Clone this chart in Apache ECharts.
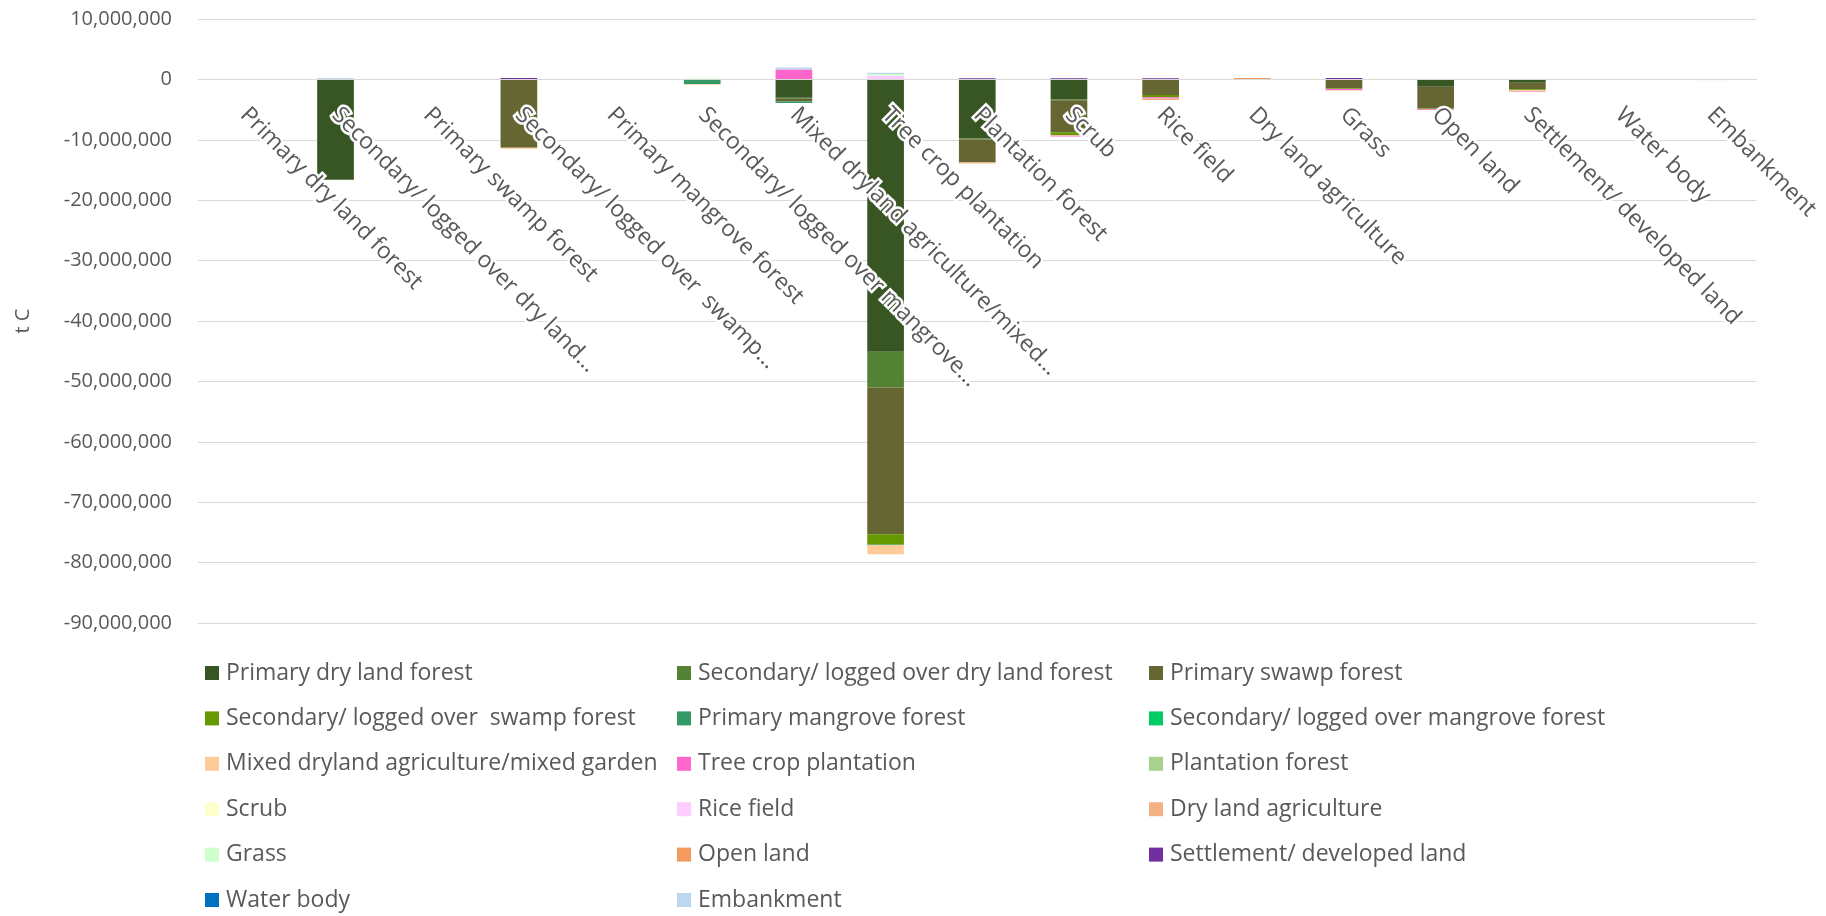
<!DOCTYPE html>
<html>
<head>
<meta charset="utf-8">
<script src="https://cdn.jsdelivr.net/npm/echarts@6/dist/echarts.min.js"></script>
<style>
html,body{margin:0;padding:0;background:#fff;}
#chart{width:1826px;height:916px;}
</style>
</head>
<body>
<div id="chart"></div>
<script>
// Category labels as shown on the x axis
const categoryLabels = [
  'Primary dry land forest',
  'Secondary/ logged over dry land...',
  'Primary swamp forest',
  'Secondary/ logged over  swamp...',
  'Primary mangrove forest',
  'Secondary/ logged over mangrove...',
  'Mixed dryland agriculture/mixed...',
  'Tree crop plantation',
  'Plantation forest',
  'Scrub',
  'Rice field',
  'Dry land agriculture',
  'Grass',
  'Open land',
  'Settlement/ developed land',
  'Water body',
  'Embankment'
];

// Series (legend) names
const seriesNames = [
  'Primary dry land forest',
  'Secondary/ logged over dry land forest',
  'Primary swawp forest',
  'Secondary/ logged over  swamp forest',
  'Primary mangrove forest',
  'Secondary/ logged over mangrove forest',
  'Mixed dryland agriculture/mixed garden',
  'Tree crop plantation',
  'Plantation forest',
  'Scrub',
  'Rice field',
  'Dry land agriculture',
  'Grass',
  'Open land',
  'Settlement/ developed land',
  'Water body',
  'Embankment'
];

const seriesColors = [
  '#375623', '#548235', '#666633', '#669900', '#339966', '#00cc66',
  '#ffcc99', '#ff66cc', '#a9d18e', '#ffffcc', '#ffccff', '#f4b183',
  '#ccffcc', '#f39a5e', '#7030a0', '#0070c0', '#bdd7ee'
];

// Values in t C, one array per series, ordered like categoryLabels
const primaryDryLandForest   = [0, -16600000, 0, 0, 0, 0, -3050000, -45100000, -9800000, -3300000, 0, 0, 0, -1200000, -550000, 0, 0];
const secondaryDryLandForest = [0, 0, 0, 0, 0, 0, -150000, -5900000, -150000, -150000, 0, 0, 0, 0, 0, 0, 0];
const primarySwampForest     = [0, 0, 0, -11300000, 0, 0, -450000, -24300000, -3800000, -5300000, -2600000, 0, -1500000, -3600000, -1100000, 0, 0];
const secondarySwampForest   = [0, 0, 0, 0, 0, 0, 0, -1700000, 0, -500000, -350000, 0, -100000, -150000, -150000, 0, 0];
const primaryMangroveForest  = [0, 0, 0, 0, 0, -750000, -250000, -100000, 0, 0, 0, 0, 0, 0, 0, 0, 0];
const secondaryMangroveForest= [0, 0, 0, 0, 0, 0, 0, 0, 0, 0, 0, 0, 0, 0, 0, 0, 0];
const mixedDrylandAgri       = [0, 0, 0, -200000, 0, -150000, 0, -1500000, -200000, -100000, 0, 0, 0, 0, -100000, 0, 0];
const treeCropPlantation     = [0, 0, 0, 0, 0, 0, 1650000, 0, 0, -100000, -200000, 0, -150000, -100000, -150000, 0, 0];
const plantationForest       = [0, 0, 0, 0, 0, 0, 0, 0, 0, 0, 0, 0, 0, 0, 0, 0, 0];
const scrub                  = [0, 0, 0, 0, 0, 0, 0, 0, 0, 0, 0, 0, 0, 0, -80000, 0, 0];
const riceField              = [0, 0, 0, 0, 0, 0, 0, 650000, 0, 0, 0, 0, 0, 0, 0, 0, 0];
const dryLandAgriculture     = [0, 0, 0, 0, 0, 0, 0, 0, 0, 0, -250000, 0, -100000, 0, 0, 0, 0];
const grass                  = [0, 0, 0, 0, 0, 150000, 0, 250000, 0, 0, 0, 0, 0, 0, 0, 0, -150000];
const openLand               = [0, 0, 0, 0, 0, 0, 0, 0, 0, 0, 0, 250000, 0, 0, 0, 0, 0];
const settlement             = [0, 0, 0, 250000, 0, 0, 0, 0, 200000, 200000, 200000, 0, 250000, 0, 0, 0, 0];
const waterBody              = [0, 0, 0, 0, 0, 0, 0, 0, 0, 0, 0, 0, 0, 0, 0, 0, 0];
const embankment             = [0, 250000, 0, 0, 0, 0, 300000, 200000, 0, 0, 0, 0, 0, 0, 0, 0, 0];

const seriesValues = [
  primaryDryLandForest, secondaryDryLandForest, primarySwampForest, secondarySwampForest,
  primaryMangroveForest, secondaryMangroveForest, mixedDrylandAgri, treeCropPlantation,
  plantationForest, scrub, riceField, dryLandAgriculture, grass, openLand, settlement,
  waterBody, embankment
];

// Y axis ticks
const yMin = -90000000, yMax = 10000000, yStep = 10000000;
const yAxisTitle = 't C';

const FONT = 'Open Sans';
const TXT = '#595959';

// grid geometry
const gridTop = 19, gridBottom = 293, chartH = 916;
const gridH = chartH - gridTop - gridBottom;
// category axis sits on the zero line
const zeroY = gridTop + gridH * (yMax - 0) / (yMax - yMin);
const xAxisOffset = zeroY - (gridTop + gridH);

const series = seriesNames.map((name, i) => ({
  name: name,
  type: 'bar',
  stack: 'total',
  barWidth: '40%',
  itemStyle: { color: seriesColors[i] },
  data: seriesValues[i]
}));

const legendCols = [[0,3,6,9,12,15],[1,4,7,10,13,16],[2,5,8,11,14]];
const legendLefts = [205, 677, 1149];
const legends = legendCols.map((col, k) => ({
  orient: 'vertical',
  left: legendLefts[k],
  top: 660,
  padding: 0,
  itemWidth: 14,
  itemHeight: 14,
  itemGap: 19.4,
  icon: 'rect',
  selectedMode: false,
  textStyle: { color: TXT, fontFamily: FONT, fontSize: 23, lineHeight: 26, padding: [0, 0, 0, 2] },
  data: col.map(i => seriesNames[i])
}));

const chart = echarts.init(document.getElementById('chart'));
chart.setOption({
  animation: false,
  backgroundColor: '#ffffff',
  grid: { left: 198, right: 68, top: gridTop, bottom: gridBottom, containLabel: false },
  legend: legends,
  xAxis: {
    type: 'category',
    data: categoryLabels,
    position: 'bottom',
    offset: xAxisOffset,
    z: 10,
    axisLine: { show: true, onZero: false, lineStyle: { color: '#d9d9d9', width: 1 } },
    axisTick: { show: false },
    axisLabel: {
      interval: 0,
      rotate: -45,
      margin: 32,
      color: TXT,
      fontFamily: FONT,
      fontSize: 23,
      textBorderColor: '#ffffff',
      textBorderWidth: 5
    },
    splitLine: { show: false }
  },
  yAxis: {
    type: 'value',
    min: yMin,
    max: yMax,
    interval: yStep,
    name: yAxisTitle,
    nameLocation: 'middle',
    nameGap: 165,
    nameTextStyle: { color: TXT, fontFamily: FONT, fontSize: 20 },
    axisLine: { show: false },
    axisTick: { show: false },
    axisLabel: {
      color: TXT,
      fontFamily: FONT,
      fontSize: 20,
      margin: 26,
      formatter: v => v.toLocaleString('en-US')
    },
    splitLine: { lineStyle: { color: '#d9d9d9', width: 1 } }
  },
  series: series
});
</script>
</body>
</html>
